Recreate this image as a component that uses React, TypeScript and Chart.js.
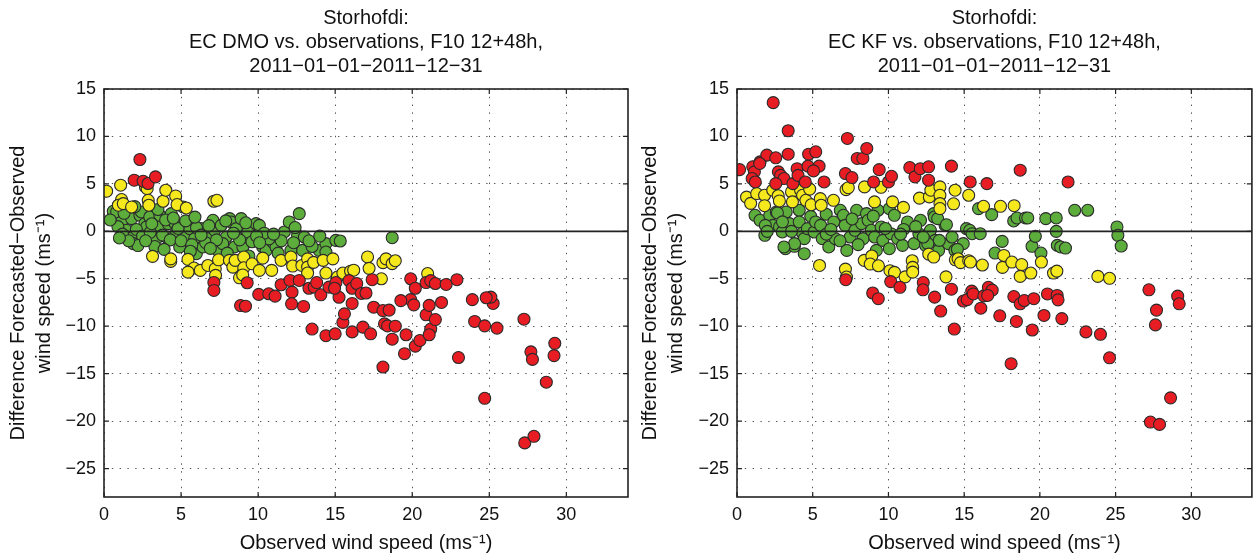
import React, { useEffect, useRef } from "react";
import { Chart, registerables } from "chart.js";
Chart.register(...registerables);

const FONT = "'Liberation Sans', Arial, Helvetica, sans-serif";

const dmoTitle = ["Storhofdi:", "EC DMO vs. observations, F10 12+48h,", "2011\u221201\u221201\u22122011\u221212\u221231"];
const kfTitle = ["Storhofdi:", "EC KF vs. observations, F10 12+48h,", "2011\u221201\u221201\u22122011\u221212\u221231"];
const xTitle = "Observed wind speed (ms\u207B\u00B9)";
const yTitle = ["Difference Forecasted\u2212Observed", "wind speed (ms\u207B\u00B9)"];

const xRange = [0, 34];
const yRange = [-28, 15];
const tickStep = 5;

// DMO panel: [observed, difference]
const dmoRed: number[][] = [
  [2.33, 7.57], [1.96, 5.39], [2.54, 5.28], [2.86, 5.04], [3.34, 5.74],
  [7.13, -5.39], [7.13, -6.23], [9.29, -5.42], [8.86, -7.82], [9.18, -7.89], [10.04, -6.65], [10.69, -6.58],
  [11.1, -6.83], [11.49, -5.63], [12.07, -5.18], [12.2, -6.41], [12.17, -7.64], [12.95, -7.92], [12.67, -5.18],
  [13.3, -6.0], [13.64, -5.88], [13.8, -5.4], [14.07, -6.69], [14.6, -5.88], [13.5, -10.3],
  [14.4, -11.0], [15.0, -10.8], [15.5, -9.6], [15.6, -8.7], [16.1, -10.6], [16.8, -10.1], [17.3, -10.8],
  [17.5, -8.0], [18.1, -8.35], [18.2, -9.75], [18.4, -9.96], [18.7, -11.37], [18.9, -10.0], [19.5, -12.9],
  [19.6, -10.9], [20.2, -12.1], [20.5, -11.5], [20.9, -8.8], [21.2, -10.3], [21.1, -10.9], [21.5, -9.3],
  [23.0, -13.3], [24.05, -9.5], [24.7, -9.96], [24.7, -17.6], [25.5, -10.2], [27.25, -9.26], [27.7, -12.7],
  [27.8, -13.5], [27.3, -22.3], [27.9, -21.6], [28.7, -15.9], [29.2, -13.1], [29.25, -11.8], [18.1, -14.3],
  [16.1, -7.6], [19.9, -7.2], [20.1, -7.75], [21.1, -7.8], [21.9, -7.5], [23.9, -7.2], [25.25, -7.6], [25.1, -6.94],
  [15.05, -5.4], [15.25, -6.95], [15.9, -5.2], [16.1, -6.0], [16.4, -5.5], [16.7, -6.55], [17.0, -6.5],
  [14.96, -6.0], [17.4, -5.1], [18.5, -8.3], [19.26, -7.3], [19.9, -5.0], [20.2, -6.0], [20.9, -5.4],
  [21.2, -5.2], [21.5, -5.5], [22.2, -5.6], [22.9, -5.1], [24.8, -7.0],
];
const dmoYellow: number[][] = [
  [0.17, 4.23], [1.08, 4.86], [2.69, 4.68], [2.8, 4.5], [1.14, 3.35], [0.93, 2.75], [1.25, 2.92], [1.79, 2.57],
  [2.87, 3.27], [2.91, 2.75], [3.83, 3.17], [4.01, 4.33], [4.65, 3.73], [4.74, 2.82], [5.34, 2.46], [7.13, 3.17],
  [7.33, 3.27], [3.15, -2.64], [4.33, -3.17], [4.33, -2.9], [5.45, -2.96], [5.84, -3.87], [6.25, -4.12],
  [5.45, -4.3], [6.74, -3.6], [7.22, -3.94], [7.43, -3.0], [7.24, -4.64], [8.14, -3.06], [8.36, -3.77],
  [8.51, -3.06], [9.07, -2.71], [9.07, -3.84], [9.61, -3.42], [8.79, -4.9], [9.0, -4.6], [10.08, -4.12],
  [10.3, -2.82], [10.88, -4.12], [11.49, -3.06], [12.13, -2.71], [12.24, -3.66], [12.84, -3.6], [13.21, -2.9],
  [13.21, -3.77], [13.21, -4.4], [13.6, -3.27], [14.22, -3.06], [14.4, -4.4], [14.85, -2.9], [15.15, -4.82],
  [15.5, -4.4], [16.0, -4.2], [16.2, -4.1], [17.1, -2.7], [17.2, -3.9], [18.1, -3.3], [18.3, -2.9], [18.7, -3.4],
  [18.9, -3.1], [18.0, -5.0], [21.0, -4.45],
];
const dmoGreen: number[][] = [
  [0.6, 2.11], [0.82, 2.04], [1.14, 0.99], [1.46, 0.11], [1.79, 1.34], [1.9, -0.6], [1.9, -1.3], [2.33, 1.69],
  [2.43, 2.04], [2.65, 0.81], [2.76, 0.46], [2.97, 1.51], [3.19, 0.11], [3.4, -0.77], [3.62, 0.46], [3.62, 1.69],
  [4.05, -0.6], [4.16, 0.81], [4.37, 1.87], [4.59, 0.88], [4.7, -0.07], [4.91, -1.65], [5.13, 2.57], [5.34, -0.6],
  [5.56, 0.28], [5.88, -0.77], [5.99, -2.36], [6.31, 0.28], [6.42, -1.65], [6.74, -0.77], [7.07, 1.16], [7.18, 0.11],
  [7.39, -2.01], [7.61, 0.63], [7.93, -0.6], [8.15, 1.34], [8.25, 0.99], [8.47, -1.65], [8.58, 0.28], [8.9, 1.34],
  [9.01, -1.65], [9.22, -0.6], [9.33, -0.07], [9.87, 0.81], [10.08, 0.63], [10.3, -1.65], [10.52, -2.01],
  [10.95, -1.13], [11.16, -1.65], [11.7, -0.07], [12.02, 0.99], [12.13, -2.01], [12.56, -0.42], [12.67, 1.87],
  [12.89, -2.01], [13.0, -0.6], [13.96, -2.01], [14.4, -1.3], [14.4, -2.18], [15.04, -0.95], [15.33, -1.02],
  [18.7, -0.67], [0.9, 0.5], [1.2, -0.3], [2.1, 0.2], [2.5, -0.5], [3.0, -0.1], [3.8, -0.4], [4.3, -0.9],
  [5.0, -1.0], [5.7, -1.4], [6.6, -1.2], [7.7, -1.3], [8.8, -0.9], [9.6, -1.1], [10.7, -0.8], [11.3, -2.3],
  [12.3, -1.2], [13.5, -1.6], [6.0, 0.4], [3.3, -1.6], [2.2, -1.5], [1.6, -1.0], [4.8, 0.3], [8.0, -2.3],
  [9.4, -2.6], [0.4, 1.2], [1.3, 1.9], [2.0, 2.6], [3.5, 2.3], [4.0, 1.2], [5.3, 1.1], [6.8, 0.6], [7.9, 1.1],
  [9.2, 0.9], [10.4, -0.2], [11.5, -1.0], [13.3, -1.0], [14.0, -0.5],
  [2.7, -1.0], [3.9, -1.9], [4.5, 1.4], [5.6, -2.1], [6.3, -0.4], [7.3, -0.9], [8.4, -0.2], [9.9, -0.5],
  [11.0, -0.3], [12.4, 0.4], [1.0, -0.7], [3.1, 0.8], [5.9, 1.5], [6.9, -1.8], [10.1, -1.2],
];

// KF panel
const kfRed: number[][] = [
  [0.17, 6.5], [2.39, 13.56], [3.38, 10.6], [1.04, 6.8], [1.15, 6.27], [1.0, 5.56], [1.21, 5.2], [1.52, 7.32],
  [1.97, 8.03], [2.56, 7.75], [3.38, 8.13], [2.73, 6.27], [2.88, 5.9], [3.1, 5.56], [2.56, 5.03], [3.69, 5.03],
  [3.97, 6.6], [4.03, 5.9], [4.51, 5.2], [4.73, 8.13], [5.2, 8.38], [4.69, 6.87], [5.42, 6.87], [5.05, 6.37],
  [5.75, 5.2], [7.29, 9.79], [7.16, 6.09], [7.59, 5.67], [7.94, 7.68], [8.31, 7.68], [8.57, 8.73], [9.39, 6.5],
  [9.02, 5.2], [10.0, 5.2], [10.2, 5.8], [11.41, 6.72], [11.75, 5.74], [12.1, 6.6], [12.65, 6.8], [12.65, 5.39],
  [14.16, 6.87], [18.7, 6.44], [15.4, 5.2], [16.5, 5.03], [21.86, 5.2], [1.5, 7.15],
  [7.18, -5.1], [8.96, -6.5], [9.33, -7.1], [10.15, -5.3], [10.76, -5.9], [12.3, -5.4], [12.28, -6.16],
  [13.05, -6.94], [13.45, -8.4], [14.16, -6.1], [14.35, -10.3], [14.95, -7.35], [15.2, -7.2], [15.5, -6.3],
  [15.6, -6.6], [16.1, -8.1], [16.3, -6.8], [16.6, -5.9], [16.85, -6.2], [16.55, -6.76], [17.35, -8.9],
  [18.28, -6.87], [18.45, -9.5], [18.7, -7.64], [18.97, -7.29], [19.6, -7.1], [19.5, -10.4], [20.27, -8.87],
  [20.5, -6.6], [21.14, -6.76], [21.2, -7.22], [21.45, -9.2], [23.04, -10.6], [24.0, -10.85], [24.6, -13.33],
  [18.1, -13.95], [27.2, -6.16], [29.1, -6.83], [29.2, -7.64], [27.7, -8.3], [27.63, -9.86], [28.63, -17.55],
  [27.3, -20.1], [27.9, -20.35],
];
const kfYellow: number[][] = [
  [0.63, 3.6], [0.9, 2.95], [1.3, 3.98], [1.82, 3.8], [1.82, 2.7], [2.36, 4.33], [2.72, 3.75], [2.8, 3.2],
  [3.6, 4.15], [3.66, 3.1], [4.2, 4.33], [4.33, 3.8], [4.55, 3.27], [4.9, 2.8], [4.8, 4.45], [5.5, 3.45],
  [5.56, 2.75], [6.37, 3.27], [7.2, 4.4], [7.35, 4.6], [8.42, 4.68], [9.08, 3.1], [9.51, 4.64], [10.27, 3.1],
  [10.99, 2.52], [12.05, 3.5], [12.7, 3.63], [12.8, 4.33], [13.4, 4.68], [13.4, 3.8], [13.4, 2.92], [13.4, 2.4],
  [14.3, 2.9], [14.4, 4.33], [15.3, 3.8], [16.28, 2.64], [17.4, 2.64], [18.3, 2.7],
  [5.45, -3.6], [7.16, -3.98], [7.23, -4.82], [8.4, -3.06], [8.9, -2.6], [8.8, -3.45], [9.34, -3.63],
  [10.1, -4.15], [10.4, -4.33], [11.1, -4.8], [11.57, -3.1], [11.6, -3.8], [11.6, -4.3], [12.66, -2.4],
  [12.99, -2.71], [13.8, -4.8], [14.42, -3.0], [14.6, -2.89], [14.76, -3.3], [15.3, -3.1], [15.41, -3.24],
  [16.2, -3.55], [17.62, -2.54], [17.53, -3.8], [18.15, -3.24], [18.8, -3.5], [18.7, -4.75], [19.4, -4.4],
  [20.1, -3.24], [20.9, -4.4], [21.12, -4.19], [23.83, -4.75], [24.6, -4.95],
];
const kfGreen: number[][] = [
  [1.19, 1.69], [1.52, 1.16], [1.84, -0.42], [2.16, 1.69], [2.38, 0.63], [2.6, 2.04], [2.81, 0.46], [3.2, -1.83],
  [3.25, 2.04], [3.46, 0.81], [3.79, -1.58], [4.11, 2.22], [4.11, 0.99], [4.33, -0.18], [4.44, -0.77],
  [4.44, -2.36], [4.65, 0.28], [4.87, 1.58], [5.09, -0.07], [5.19, 0.99], [5.52, 0.63], [5.63, -0.77],
  [5.89, 1.8], [6.06, -1.65], [6.39, 0.99], [6.49, -0.77], [6.82, 2.22], [7.03, 1.69], [7.14, 0.63],
  [7.25, -2.01], [7.47, -0.6], [7.79, 0.11], [7.9, 2.22], [8.23, 0.81], [8.33, -0.77], [8.55, 1.87], [8.66, 1.16],
  [8.87, 0.11], [9.09, -0.6], [9.2, -2.01], [9.31, 2.22], [9.52, 0.46], [9.63, -0.95], [10.06, -1.83],
  [10.06, 2.39], [10.17, -0.25], [10.39, 1.69], [10.61, -0.77], [10.93, -1.48], [11.26, 0.99], [11.69, -1.3],
  [12.01, -0.25], [12.12, 1.16], [12.45, -1.48], [12.77, 0.11], [12.99, 1.87], [13.1, -0.95], [13.31, -2.01],
  [13.74, 0.63], [13.96, -1.3], [14.39, -2.01], [14.94, -1.3], [15.15, 0.28], [15.37, 0.11],
  [1.87, 0.63], [2.67, 1.94], [2.99, -0.07], [3.8, -1.3], [3.1, -1.65],
  [15.95, 2.39], [16.82, 1.76], [18.27, 1.09], [18.49, 1.41], [19.05, 1.41], [19.2, 1.41], [20.39, 1.34],
  [21.08, 1.41], [21.08, 0.0], [22.3, 2.22], [23.16, 2.22], [25.09, 0.46], [25.15, -0.42], [25.37, -1.55],
  [13.03, 1.51], [13.25, 1.34], [13.83, 0.7], [15.52, -0.25], [16.06, -0.25], [12.6, -1.3], [13.36, -0.95],
  [14.55, -1.9], [17.04, -2.29], [17.51, -1.06], [19.48, -1.58], [19.7, -0.53], [20.07, -2.29], [21.15, -1.48],
  [21.37, -1.65], [21.69, -1.76], [2.0, 0.0], [3.0, 1.0], [3.6, 0.0], [5.9, -0.3], [6.8, -1.0], [8.0, -1.4],
  [9.8, 0.3], [11.0, 0.2], [11.8, 0.5], [12.3, -0.6], [14.2, -0.6], [6.2, 0.2], [7.6, 1.3], [9.0, 1.6], [10.8, -0.3],
];

const RED = "#e81d23";
const YELLOW = "#f5e81c";
const GREEN = "#5cad3b";

const minusFmt = (v: number | string) => String(v).replace("-", "\u2212");

const boxPlugin = {
  id: "matlabBox",
  afterDatasetsDraw(chart: any) {
    const { ctx, chartArea } = chart;
    const { left, right, top, bottom } = chartArea;
    const xs = chart.scales.x;
    const ys = chart.scales.y;
    ctx.save();
    const y0 = ys.getPixelForValue(0);
    ctx.strokeStyle = "#222";
    ctx.lineWidth = 1.6;
    ctx.beginPath();
    ctx.moveTo(left, y0);
    ctx.lineTo(right, y0);
    ctx.stroke();
    ctx.lineWidth = 1.2;
    ctx.beginPath();
    xs.ticks.forEach((t: any) => {
      const p = xs.getPixelForValue(t.value);
      ctx.moveTo(p, bottom);
      ctx.lineTo(p, bottom - 5);
      ctx.moveTo(p, top);
      ctx.lineTo(p, top + 5);
    });
    ys.ticks.forEach((t: any) => {
      const p = ys.getPixelForValue(t.value);
      ctx.moveTo(left, p);
      ctx.lineTo(left + 5, p);
      ctx.moveTo(right, p);
      ctx.lineTo(right - 5, p);
    });
    ctx.stroke();
    ctx.lineWidth = 1.6;
    ctx.strokeRect(left, top, right - left, bottom - top);
    ctx.restore();
  },
};

function toPts(a: number[][]) {
  return a.map(([x, y]) => ({ x, y }));
}

function makeConfig(title: string[], red: number[][], yellow: number[][], green: number[][], yWidth: number, padRight: number): any {
  const ds = (data: number[][], color: string) => ({
    data: toPts(data),
    backgroundColor: color,
    borderColor: "#2a2a2a",
    borderWidth: 1.1,
    pointRadius: 6,
    pointHoverRadius: 6,
  });
  return {
    type: "scatter",
    data: { datasets: [ds(red, RED), ds(yellow, YELLOW), ds(green, GREEN)] },
    options: {
      animation: false,
      responsive: false,
      events: [],
      layout: { padding: { left: 0, right: padRight, top: 0, bottom: 0 } },
      plugins: {
        legend: { display: false },
        tooltip: { enabled: false },
        title: {
          display: true,
          text: title,
          fullSize: false,
          color: "#111",
          font: { family: FONT, size: 20, weight: "normal", lineHeight: 1.2 },
          padding: { top: 6, bottom: 11 },
        },
      },
      scales: {
        x: {
          type: "linear",
          min: xRange[0],
          max: xRange[1],
          afterFit: (s: any) => { s.height = 61; },
          ticks: {
            stepSize: tickStep,
            includeBounds: false,
            color: "#111",
            padding: 7,
            maxRotation: 0,
            font: { family: FONT, size: 18 },
            callback: (v: number) => minusFmt(v),
          },
          grid: { color: "#555", lineWidth: 1, drawTicks: false },
          border: { display: false, dash: [1.4, 6.4] },
          title: {
            display: true,
            text: xTitle,
            color: "#111",
            font: { family: FONT, size: 20, lineHeight: 1.2 },
            padding: { top: 0, bottom: 3 },
          },
        },
        y: {
          type: "linear",
          min: yRange[0],
          max: yRange[1],
          afterFit: (s: any) => { s.width = yWidth; },
          ticks: {
            stepSize: tickStep,
            includeBounds: false,
            color: "#111",
            padding: 8,
            font: { family: FONT, size: 18 },
            callback: (v: number) => minusFmt(v),
          },
          grid: { color: "#555", lineWidth: 1, drawTicks: false },
          border: { display: false, dash: [1.4, 6.4] },
          title: {
            display: true,
            text: yTitle,
            color: "#111",
            font: { family: FONT, size: 20, lineHeight: 1.3 },
            padding: { top: 5, bottom: 0 },
          },
        },
      },
    },
    plugins: [boxPlugin],
  };
}

export default function App() {
  const leftRef = useRef<HTMLCanvasElement>(null);
  const rightRef = useRef<HTMLCanvasElement>(null);
  useEffect(() => {
    const c1 = new Chart(leftRef.current as HTMLCanvasElement, makeConfig(dmoTitle, dmoRed, dmoYellow, dmoGreen, 104, 12));
    const c2 = new Chart(rightRef.current as HTMLCanvasElement, makeConfig(kfTitle, kfRed, kfYellow, kfGreen, 105, 3));
    return () => {
      c1.destroy();
      c2.destroy();
    };
  }, []);
  return (
    <div style={{ position: "fixed", left: 0, top: 0, width: 1259, height: 558, background: "#fff" }}>
      <canvas ref={leftRef} width={640} height={558} style={{ position: "absolute", left: 0, top: 0, width: 640, height: 558 }} />
      <canvas ref={rightRef} width={627} height={558} style={{ position: "absolute", left: 632, top: 0, width: 627, height: 558 }} />
    </div>
  );
}
